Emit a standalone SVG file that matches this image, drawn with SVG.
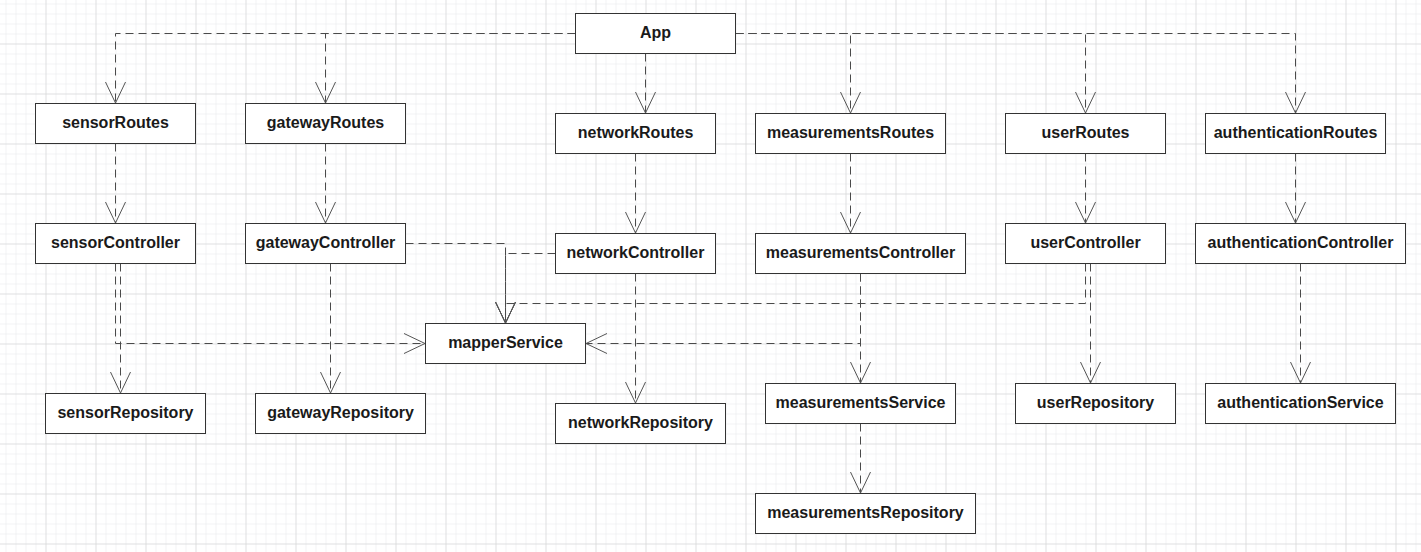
<svg xmlns="http://www.w3.org/2000/svg" width="1421" height="552" viewBox="0 0 1421 552">
  <style>
    .box rect { fill: #ffffff; stroke: #333333; stroke-width: 1; }
    .box text { font-family: "Liberation Sans", Arial, sans-serif; font-weight: bold; font-size: 16px; fill: #1a1a1a; text-anchor: middle; }
    .edge { fill: none; stroke: #4a4a4a; stroke-width: 1; stroke-dasharray: 8 5; marker-end: url(#open); }
  </style>
  <defs>
    <pattern id="minor" x="5.5" y="3.5" width="10" height="10" patternUnits="userSpaceOnUse">
      <path d="M0,0 H10 M0,0 V10" stroke="#e6e7e9" stroke-width="1" fill="none"/>
    </pattern>
    <pattern id="major" x="45.5" y="43.5" width="50" height="50" patternUnits="userSpaceOnUse">
      <path d="M0,0 H50 M0,0 V50" stroke="#d2d2d2" stroke-width="1" fill="none"/>
    </pattern>
    <marker id="open" markerUnits="userSpaceOnUse" markerWidth="30" markerHeight="30" refX="0" refY="0" orient="auto" overflow="visible">
      <path d="M-21,-10 L0,0 L-21,10" fill="none" stroke="#555555" stroke-width="1"/>
    </marker>
  </defs>
  <rect x="0" y="0" width="1421" height="552" fill="#ffffff"/>
  <rect x="0" y="0" width="1421" height="552" fill="url(#minor)"/>
  <rect x="0" y="0" width="1421" height="552" fill="url(#major)"/>

  <g id="connectors">
    <path class="edge" d="M575.5,33.5 H115.5 V103"/>
    <path class="edge" d="M575.5,33.5 H325.5 V103"/>
    <path class="edge" d="M645.5,53.5 V113"/>
    <path class="edge" d="M735.5,33.5 H850.5 V113"/>
    <path class="edge" d="M735.5,33.5 H1085.5 V113"/>
    <path class="edge" d="M735.5,33.5 H1295.5 V113"/>
    <path class="edge" d="M115.5,143.5 V223"/>
    <path class="edge" d="M325.5,143.5 V223"/>
    <path class="edge" d="M635.5,153.5 V233"/>
    <path class="edge" d="M850.5,153.5 V233"/>
    <path class="edge" d="M1085.5,153.5 V223"/>
    <path class="edge" d="M1295.5,153.5 V223"/>
    <path class="edge" d="M120.5,263.5 V393"/>
    <path class="edge" d="M115.5,263.5 V343.5 H425"/>
    <path class="edge" d="M330.5,263.5 V393"/>
    <path class="edge" d="M405.5,243.5 H505.5 V323"/>
    <path class="edge" d="M555.5,253.5 H505.5 V323"/>
    <path class="edge" d="M1085.5,263.5 V303.5 H505.5 V323"/>
    <path class="edge" d="M1090.5,263.5 V383"/>
    <path class="edge" d="M635.5,273.5 V403"/>
    <path class="edge" d="M860.5,273.5 V383"/>
    <path class="edge" d="M860.5,273.5 V343.5 H586"/>
    <path class="edge" d="M860.5,423.5 V493"/>
    <path class="edge" d="M1300.5,263.5 V383"/>
  </g>

  <g id="App" class="box"><rect x="575.5" y="13.5" width="160" height="40"/><text x="655.5" y="38">App</text></g>
  <g id="sensorRoutes" class="box"><rect x="35.5" y="103.5" width="160" height="40"/><text x="115.5" y="128">sensorRoutes</text></g>
  <g id="gatewayRoutes" class="box"><rect x="245.5" y="103.5" width="160" height="40"/><text x="325.5" y="128">gatewayRoutes</text></g>
  <g id="networkRoutes" class="box"><rect x="555.5" y="113.5" width="160" height="40"/><text x="635.5" y="138">networkRoutes</text></g>
  <g id="measurementsRoutes" class="box"><rect x="755.5" y="113.5" width="190" height="40"/><text x="850.5" y="138">measurementsRoutes</text></g>
  <g id="userRoutes" class="box"><rect x="1005.5" y="113.5" width="160" height="40"/><text x="1085.5" y="138">userRoutes</text></g>
  <g id="authenticationRoutes" class="box"><rect x="1205.5" y="113.5" width="180" height="40"/><text x="1295.5" y="138">authenticationRoutes</text></g>
  <g id="sensorController" class="box"><rect x="35.5" y="223.5" width="160" height="40"/><text x="115.5" y="248">sensorController</text></g>
  <g id="gatewayController" class="box"><rect x="245.5" y="223.5" width="160" height="40"/><text x="325.5" y="248">gatewayController</text></g>
  <g id="networkController" class="box"><rect x="555.5" y="233.5" width="160" height="40"/><text x="635.5" y="258">networkController</text></g>
  <g id="measurementsController" class="box"><rect x="755.5" y="233.5" width="210" height="40"/><text x="860.5" y="258">measurementsController</text></g>
  <g id="userController" class="box"><rect x="1005.5" y="223.5" width="160" height="40"/><text x="1085.5" y="248">userController</text></g>
  <g id="authenticationController" class="box"><rect x="1195.5" y="223.5" width="210" height="40"/><text x="1300.5" y="248">authenticationController</text></g>
  <g id="mapperService" class="box"><rect x="425.5" y="323.5" width="160" height="40"/><text x="505.5" y="348">mapperService</text></g>
  <g id="sensorRepository" class="box"><rect x="45.5" y="393.5" width="160" height="40"/><text x="125.5" y="418">sensorRepository</text></g>
  <g id="gatewayRepository" class="box"><rect x="255.5" y="393.5" width="170" height="40"/><text x="340.5" y="418">gatewayRepository</text></g>
  <g id="networkRepository" class="box"><rect x="555.5" y="403.5" width="170" height="40"/><text x="640.5" y="428">networkRepository</text></g>
  <g id="measurementsService" class="box"><rect x="765.5" y="383.5" width="190" height="40"/><text x="860.5" y="408">measurementsService</text></g>
  <g id="userRepository" class="box"><rect x="1015.5" y="383.5" width="160" height="40"/><text x="1095.5" y="408">userRepository</text></g>
  <g id="authenticationService" class="box"><rect x="1205.5" y="383.5" width="190" height="40"/><text x="1300.5" y="408">authenticationService</text></g>
  <g id="measurementsRepository" class="box"><rect x="755.5" y="493.5" width="220" height="40"/><text x="865.5" y="518">measurementsRepository</text></g>
</svg>
